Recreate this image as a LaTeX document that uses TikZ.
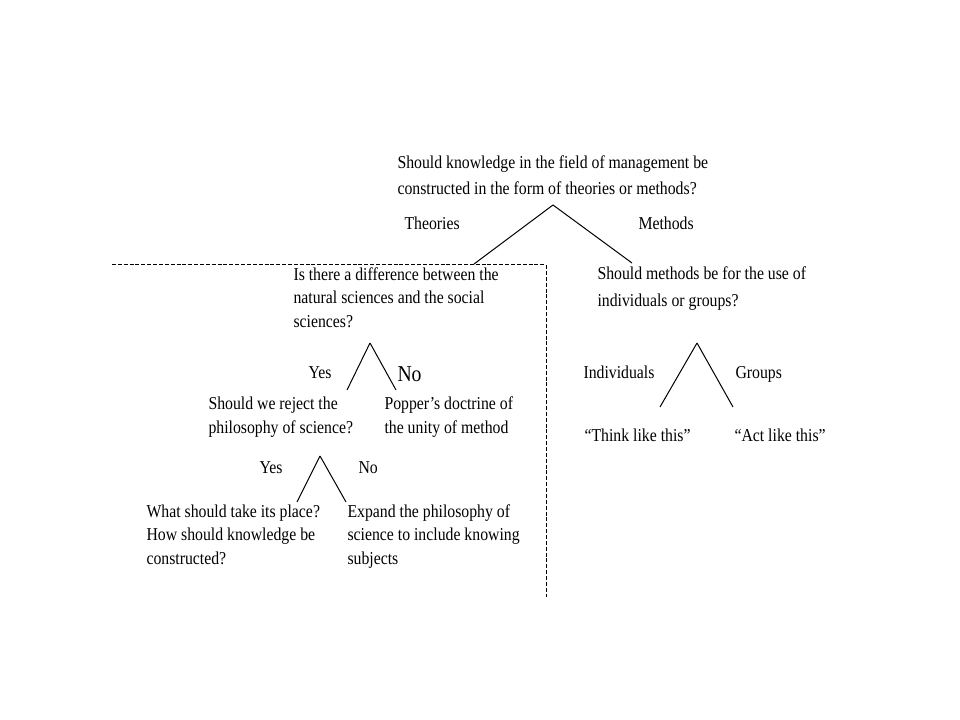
\documentclass[tikz,border=0pt]{standalone}
\usepackage{fontspec}
\setmainfont{Liberation Serif}[FakeStretch=0.87]
\usetikzlibrary{positioning}

\begin{document}
\begin{tikzpicture}[x=0.75pt, y=-0.75pt, draw=black, line width=0.75pt, font=\fontsize{13.6}{17.4}\selectfont]
    \tikzstyle{question}=[anchor=base west, inner sep=0pt, align=left]
    \tikzstyle{answer}=[anchor=base west, inner sep=0pt]
    \tikzstyle{wide}=[font=\fontsize{13.6}{19.6}\selectfont]
    \tikzstyle{frame}=[draw=black, line width=0.75pt, dash pattern=on 3pt off 1.4pt]

    \useasboundingbox (0,0) rectangle (960,720);

    % questions (anchored on the baseline of their last line)
    \node[question, wide] (manage) at (397,195) {Should knowledge in the field of management be\\constructed in the form of theories or methods?};
    \node[question] (differ) at (293,327) {Is there a difference between the\\natural sciences and the social\\sciences?};
    \node[question, wide] (use) at (597,306) {Should methods be for the use of\\individuals or groups?};
    \node[question] (reject) at (208,433) {Should we reject the\\philosophy of science?};
    \node[question] (popper) at (384,433) {Popper’s doctrine of\\the unity of method};
    \node[question] (place) at (146,564) {What should take its place?\\How should knowledge be\\constructed?};
    \node[question] (expand) at (347,564) {Expand the philosophy of\\science to include knowing\\subjects};
    \node[answer] (think) at (584,441) {“Think like this”};
    \node[answer] (act) at (734,441) {“Act like this”};

    % branch labels
    \node[answer] (theo) at (404,230) {Theories};
    \node[answer] (meth) at (638,230) {Methods};
    \node[answer] (diffyes) at (308,378) {Yes};
    \node[answer, font=\fontsize{17}{20}\selectfont] (diffno) at (397,381) {No};
    \node[answer] (rejyes) at (259,473) {Yes};
    \node[answer] (rejno) at (358,473) {No};
    \node[answer] (indiv) at (583,378) {Individuals};
    \node[answer] (group) at (735,378) {Groups};

    % forks
    \coordinate (topfork) at (553,205);
    \coordinate (theoend) at (474,264);
    \coordinate (methend) at (632,263);
    \coordinate (difffork) at (370,343);
    \coordinate (diffleft) at (347,390);
    \coordinate (diffright) at (396,390);
    \coordinate (rejfork) at (320,456);
    \coordinate (rejleft) at (297,502);
    \coordinate (rejright) at (346,502);
    \coordinate (usefork) at (697,343);
    \coordinate (useleft) at (660,407);
    \coordinate (useright) at (733,407);

    \path (topfork) edge (theoend);
    \path (topfork) edge (methend);
    \path (difffork) edge (diffleft);
    \path (difffork) edge (diffright);
    \path (rejfork) edge (rejleft);
    \path (rejfork) edge (rejright);
    \path (usefork) edge (useleft);
    \path (usefork) edge (useright);

    % theories frame
    \coordinate (frameleft) at (112,265);
    \coordinate (framecorner) at (546,265);
    \coordinate (framebottom) at (546,597);
    \draw[frame] (frameleft) -- (framecorner) -- (framebottom);
\end{tikzpicture}
\end{document}
